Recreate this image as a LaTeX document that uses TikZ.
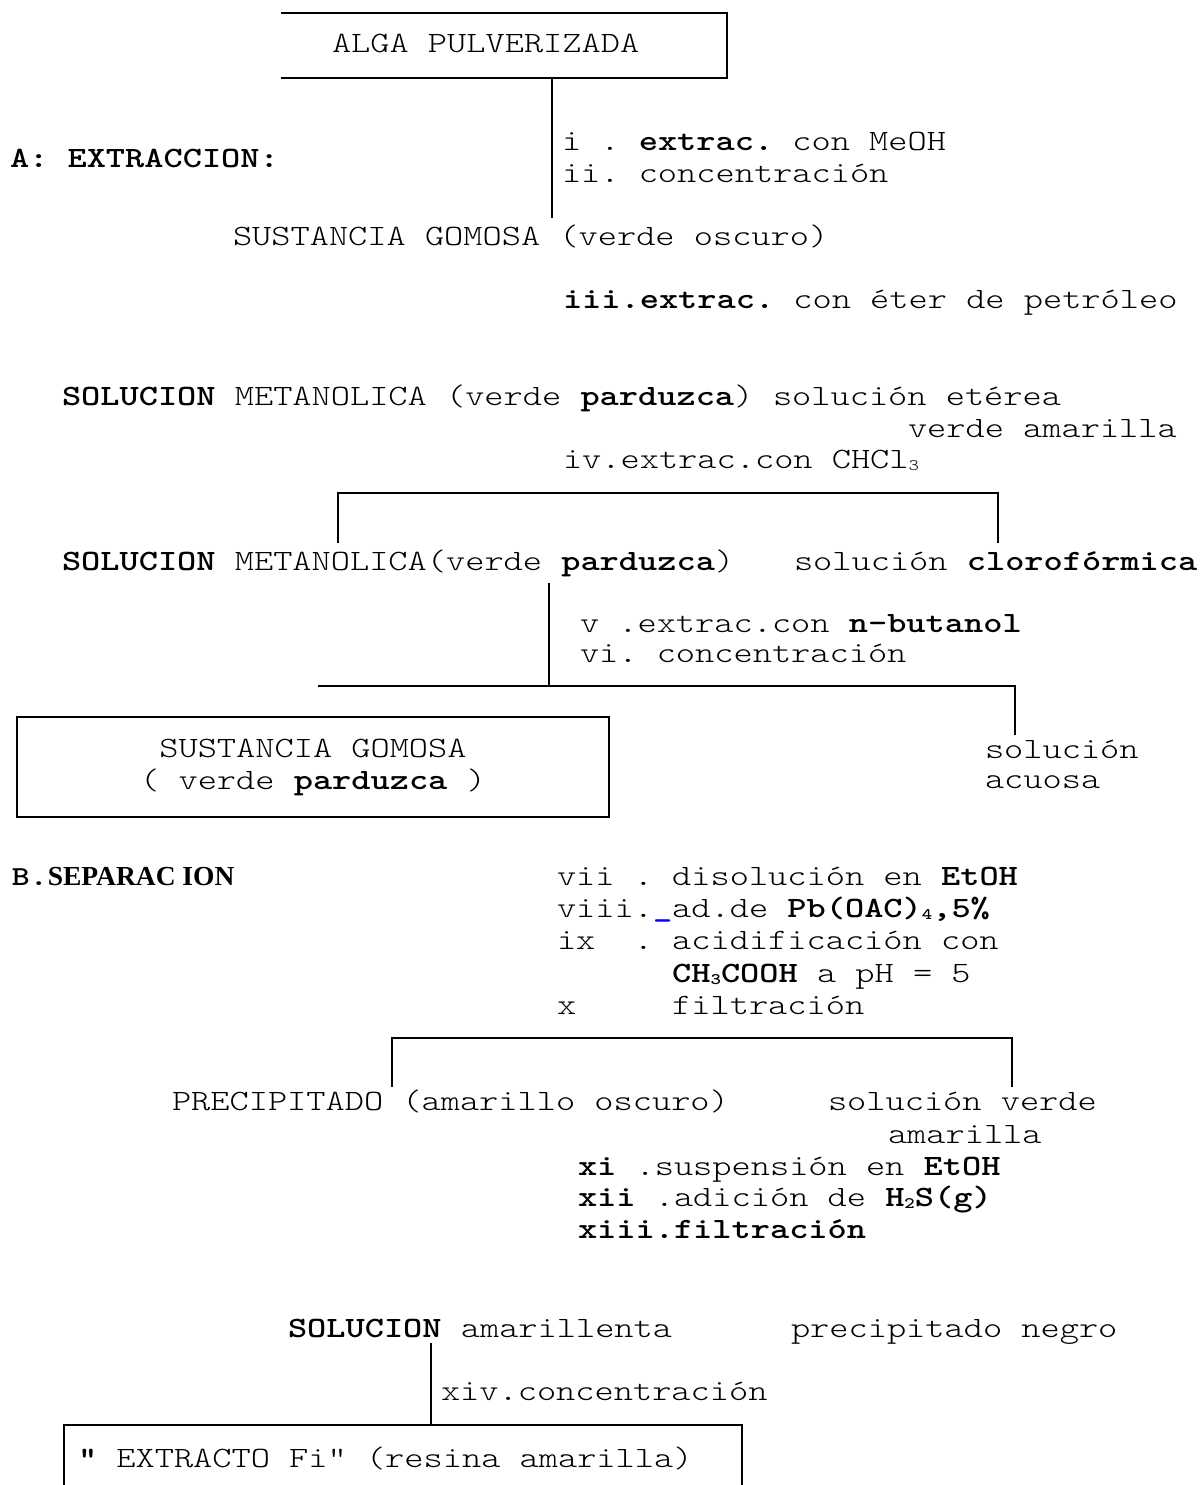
\documentclass[tikz,border=0pt]{standalone}
\usepackage{fontspec}
\setmainfont{Liberation Serif}
\setmonofont{lmmonolt10-regular}[Extension=.otf, BoldFont=lmmonolt10-bold, FakeStretch=1.24]
\newfontfamily\serifBfam{Liberation Serif}
\newcommand\monoF{\ttfamily\fontsize{29.5}{32}\selectfont\frenchspacing}
\newcommand\subx[1]{\raisebox{-2pt}{\fontsize{16}{16}\selectfont #1}}
\begin{document}
\begin{tikzpicture}[x=1pt,y=-1pt,
  every node/.style={inner sep=0pt, outer sep=0pt, font=\monoF},
  txt/.style={anchor=base west},
  conn/.style={line width=1.8pt},
  boxline/.style={line width=2.2pt}]
\fill[white] (0,0) rectangle (1200,1485);
\useasboundingbox (0,0) rectangle (1200,1485);

% ---- top box
\node[minimum width=446pt, minimum height=65pt, anchor=north west] (alga) at (281,13) {};
\draw[boxline] (alga.north west) -- (alga.north east) -- (alga.south east) -- (alga.south west);
\node[txt] (algat) at (332,53) {ALGA PULVERIZADA};

% ---- A: extraccion
\node[txt] (tA) at (10,167) {\textbf{A: EXTRACCION:}};
\node[txt] (s1) at (562,150) {i . \textbf{extrac.} con MeOH};
\node[txt] (s2) at (562,182) {ii. concentración};
\node[txt] (sg1) at (233,245) {SUSTANCIA GOMOSA (verde oscuro)};
\node[txt] (s3) at (563,308) {\textbf{iii.extrac.} con éter de petróleo};
\node[txt] (sm1) at (62,405) {\textbf{SOLUCION} METANOLICA (verde \textbf{parduzca})};
\node[txt] (et1) at (773,405) {solución etérea};
\node[txt] (et2) at (908,437) {verde amarilla};
\node[txt] (s4) at (563,468) {iv.extrac.con CHCl\subx{3}};
\node[txt] (sm2) at (62,570) {\textbf{SOLUCION} METANOLICA(verde \textbf{parduzca})};
\node[txt] (clo) at (794,570) {solución \textbf{clorofórmica}};
\node[txt] (s5) at (580,632) {v .extrac.con \textbf{n-butanol}};
\node[txt] (s6) at (580,662) {vi. concentración};
\node[draw, boxline, minimum width=592pt, minimum height=100pt, anchor=north west, align=center]
  (sg2) at (17,717) {\raisebox{-3pt}{SUSTANCIA GOMOSA}\\\raisebox{-3pt}{( verde \textbf{parduzca} )}};
\node[txt] (acu1) at (985,758) {solución};
\node[txt] (acu2) at (985,788) {acuosa};

% ---- B: separacion
\node[txt] (tB) at (12,885) {\fontsize{27.5}{27.5}\selectfont\textbf{B.}\serifBfam\bfseries SEPARAC ION};
\node[txt] (s7) at (557,885) {vii . disolución en \textbf{EtOH}};
\node[txt] (s8) at (557,917) {viii.{\color{blue}\textbf{\_}}ad.de \textbf{Pb(OAC)\subx{4},5\%}};
\node[txt] (s9) at (557,949) {ix\ \ .\ acidificación con};
\node[txt] (s9b) at (672.2,982) {\textbf{CH\subx{3}COOH} a pH = 5};
\node[txt] (s10) at (557,1014) {x\ \ \ \ \ filtración};
\node[txt] (prec) at (172,1110) {PRECIPITADO (amarillo oscuro)};
\node[txt] (ver1) at (828,1110) {solución verde};
\node[txt] (ver2) at (888,1143) {amarilla};
\node[txt] (s11) at (578,1175) {\textbf{xi} .suspensión en \textbf{EtOH}};
\node[txt] (s12) at (578,1206) {\textbf{xii} .adición de \textbf{H\subx{2}S(g)}};
\node[txt] (s13) at (578,1238) {\textbf{xiii.filtración}};
\node[txt] (solam) at (288,1337) {\textbf{SOLUCION} amarillenta};
\node[txt] (negro) at (791,1337) {precipitado negro};
\node[txt] (s14) at (441,1400) {xiv.concentración};
\node[minimum width=678pt, minimum height=60pt, anchor=north west] (extr) at (64,1425) {};
\draw[boxline] (extr.south west) -- (extr.north west) -- (extr.north east) -- (extr.south east);
\node[txt] (extrt) at (78,1467) {\textbf{"} EXTRACTO Fi" (resina amarilla)};

% ---- connectors
\coordinate (v1) at (552,218);
\draw[conn] (alga.south -| v1) -- (v1);
\coordinate (b1l) at (338,543);
\coordinate (b1t) at (668,493);
\coordinate (b1r) at (998,543);
\draw[conn] (b1l) |- (b1t) -| (b1r);
\coordinate (v2a) at (549,583);
\coordinate (v2b) at (549,686);
\draw[conn] (v2a) -- (v2b);
\coordinate (h2l) at (318,686);
\coordinate (h2r) at (1015,735);
\draw[conn] (h2l) -| (h2r);
\coordinate (b2l) at (392,1087);
\coordinate (b2t) at (700,1038);
\coordinate (b2r) at (1012,1087);
\draw[conn] (b2l) |- (b2t) -| (b2r);
\coordinate (v3) at (431,1343);
\draw[conn] (v3) -- (extr.north -| v3);
\end{tikzpicture}
\end{document}
